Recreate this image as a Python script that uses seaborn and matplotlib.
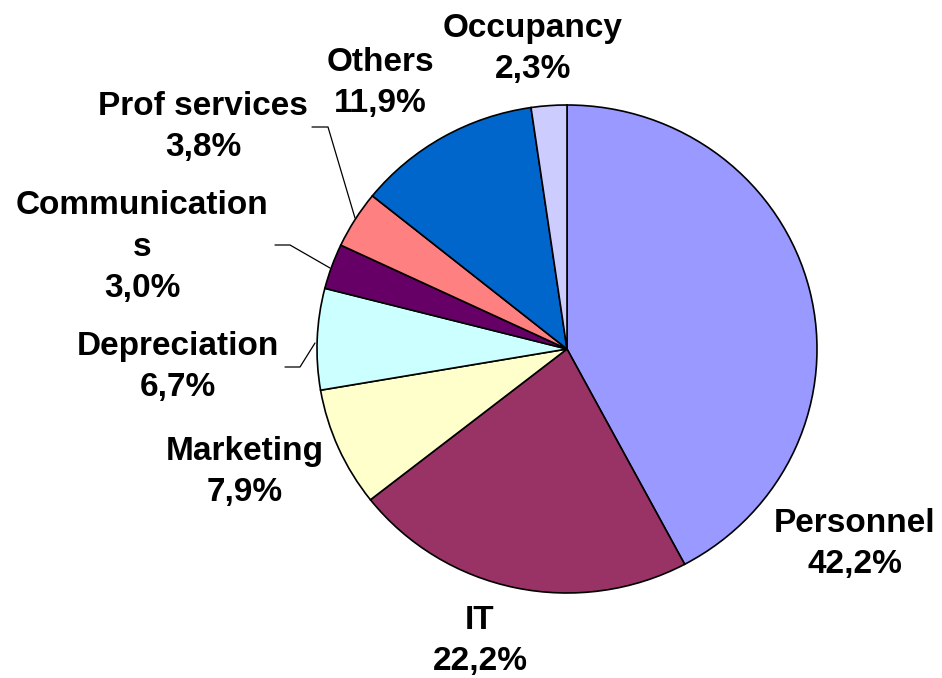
import matplotlib
matplotlib.use('agg')
import matplotlib.pyplot as plt
import seaborn as sns

sns.set_style('white')
plt.rcParams['font.family'] = ['Liberation Sans', 'DejaVu Sans']

# cost breakdown, clockwise from 12 o'clock
categories = ['Personnel', 'IT', 'Marketing', 'Depreciation',
              'Communications', 'Prof services', 'Others', 'Occupancy']
shares = [42.2, 22.2, 7.9, 6.7, 3.0, 3.8, 11.9, 2.3]
label_names = ['Personnel', 'IT', 'Marketing', 'Depreciation',
               'Communication\ns', 'Prof services', 'Others', 'Occupancy']
colors = ['#9999FF', '#993366', '#FFFFCC', '#CCFFFF',
          '#660066', '#FF8080', '#0066CC', '#CCCCFF']

W, H = 942, 678
CX, CY, RX, RY = 567, 349, 250, 244


def px(x, y):
    # pixel (from top-left) -> data coords of the unit pie
    return (x - CX) / RX, (CY - y) / RY


# label block centres in pixels
label_pos = [(855, 544), (480, 641), (245, 472), (178, 367),
             (142, 247), (203, 127), (380, 83), (533, 49)]

# leader lines (pixel coords)
leaders = [
    [(285, 367), (300, 367), (315, 343)],
    [(275, 245), (290, 245), (330, 268)],
    [(312, 127), (328, 127), (355, 218)],
]

fig = plt.figure(figsize=(W / 100, H / 100), dpi=100)
ax = fig.add_axes([0, 0, 1, 1])

labels = ['%s\n%s%%' % (n, ('%.1f' % v).replace('.', ',')) for n, v in zip(label_names, shares)]
wedges, texts = ax.pie(shares, labels=labels, colors=colors, startangle=90,
                       counterclock=False, radius=1,
                       wedgeprops=dict(edgecolor='black', linewidth=1.2),
                       textprops=dict(fontsize=24, fontweight='bold',
                                      color='black', ha='center', va='center',
                                      linespacing=1.45))

for t, (x, y) in zip(texts, label_pos):
    t.set_position(px(x, y))
    t.set_ha('center')
    t.set_va('center')
    t.set_multialignment('center')

for pts in leaders:
    xs, ys = zip(*[px(x, y) for x, y in pts])
    ax.plot(xs, ys, color='black', lw=0.9)

ax.set_aspect('auto')
ax.set_xlim(px(0, 0)[0], px(W, 0)[0])
ax.set_ylim(px(0, H)[1], px(0, 0)[1])
ax.axis('off')

fig.savefig('out.png', dpi=100)
